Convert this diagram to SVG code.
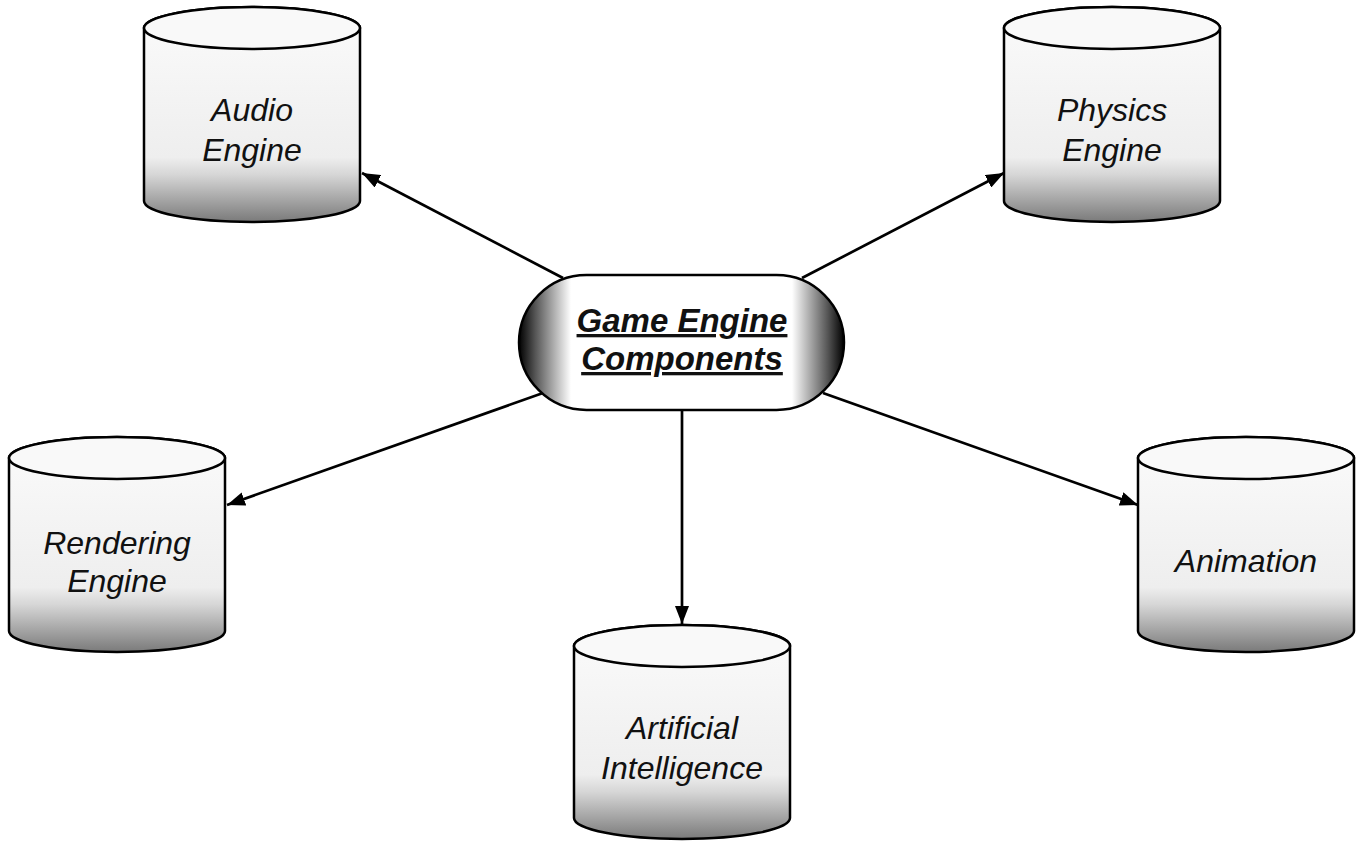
<svg xmlns="http://www.w3.org/2000/svg" width="1362" height="841" viewBox="0 0 1362 841">
  <style>
    .cyl-body { fill: url(#cylFill); stroke: #000; stroke-width: 2.5; }
    .cyl-top { fill: #f9f9f9; stroke: #000; stroke-width: 2.5; }
    .label { font-family: "Liberation Sans", Arial, sans-serif; font-style: italic; font-size: 32px; fill: #111; text-anchor: middle; }
    .hub-label { font-family: "Liberation Sans", Arial, sans-serif; font-style: italic; font-weight: bold; font-size: 33px; fill: #111; text-anchor: middle; text-decoration: underline; }
    .edge { stroke: #000; stroke-width: 2.7; fill: none; marker-end: url(#arrow); }
  </style>
  <defs>
    <linearGradient id="cylFill" x1="0" y1="0" x2="0" y2="1">
      <stop offset="0" stop-color="#fbfbfb"/>
      <stop offset="0.70" stop-color="#eeeeee"/>
      <stop offset="0.78" stop-color="#d6d6d6"/>
      <stop offset="1" stop-color="#7a7a7a"/>
    </linearGradient>
    <linearGradient id="hubFill" x1="0" y1="0" x2="1" y2="0">
      <stop offset="0" stop-color="#000"/>
      <stop offset="0.05" stop-color="#555"/>
      <stop offset="0.16" stop-color="#fff"/>
      <stop offset="0.84" stop-color="#fff"/>
      <stop offset="0.95" stop-color="#555"/>
      <stop offset="1" stop-color="#000"/>
    </linearGradient>
    <marker id="arrow" viewBox="0 0 18 14" refX="18" refY="7" markerWidth="18" markerHeight="14" markerUnits="userSpaceOnUse" orient="auto">
      <path d="M0,0 L18,7 L0,14 Z" fill="#000"/>
    </marker>
  </defs>

  <!-- connectors from the hub to each component -->
  <g id="connectors">
    <line class="edge" x1="563" y1="278" x2="362" y2="173"/>
    <line class="edge" x1="802" y1="278" x2="1004" y2="173"/>
    <line class="edge" x1="543" y1="393" x2="227" y2="505"/>
    <line class="edge" x1="823" y1="393" x2="1138" y2="505"/>
    <line class="edge" x1="682" y1="410" x2="682" y2="624"/>
  </g>

  <!-- hub -->
  <g id="hub">
    <rect x="519" y="275" width="325" height="135" rx="67.5" ry="67.5" fill="url(#hubFill)" stroke="#000" stroke-width="2.5"/>
    <text class="hub-label" x="682" y="332">Game Engine</text>
    <text class="hub-label" x="682" y="370">Components</text>
  </g>

  <!-- cylinders: body spans top ellipse centre to bottom ellipse centre (ry 21) -->
  <g id="audio-engine">
    <path class="cyl-body" d="M144,28 A108,21 0 0 1 360,28 V201 A108,21 0 0 1 144,201 Z"/>
    <ellipse class="cyl-top" cx="252" cy="28" rx="108" ry="21"/>
    <text class="label" x="252" y="121">Audio</text>
    <text class="label" x="252" y="161">Engine</text>
  </g>

  <g id="physics-engine">
    <path class="cyl-body" d="M1004,28 A108,21 0 0 1 1220,28 V201 A108,21 0 0 1 1004,201 Z"/>
    <ellipse class="cyl-top" cx="1112" cy="28" rx="108" ry="21"/>
    <text class="label" x="1112" y="121">Physics</text>
    <text class="label" x="1112" y="161">Engine</text>
  </g>

  <g id="rendering-engine">
    <path class="cyl-body" d="M9,458 A108,21 0 0 1 225,458 V631 A108,21 0 0 1 9,631 Z"/>
    <ellipse class="cyl-top" cx="117" cy="458" rx="108" ry="21"/>
    <text class="label" x="117" y="554">Rendering</text>
    <text class="label" x="117" y="592">Engine</text>
  </g>

  <g id="animation">
    <path class="cyl-body" d="M1138,458 A108,21 0 0 1 1354,458 V631 A108,21 0 0 1 1138,631 Z"/>
    <ellipse class="cyl-top" cx="1246" cy="458" rx="108" ry="21"/>
    <text class="label" x="1246" y="572">Animation</text>
  </g>

  <g id="artificial-intelligence">
    <path class="cyl-body" d="M574,646 A108,21 0 0 1 790,646 V818 A108,21 0 0 1 574,818 Z"/>
    <ellipse class="cyl-top" cx="682" cy="646" rx="108" ry="21"/>
    <text class="label" x="682" y="739">Artificial</text>
    <text class="label" x="682" y="779">Intelligence</text>
  </g>
</svg>
